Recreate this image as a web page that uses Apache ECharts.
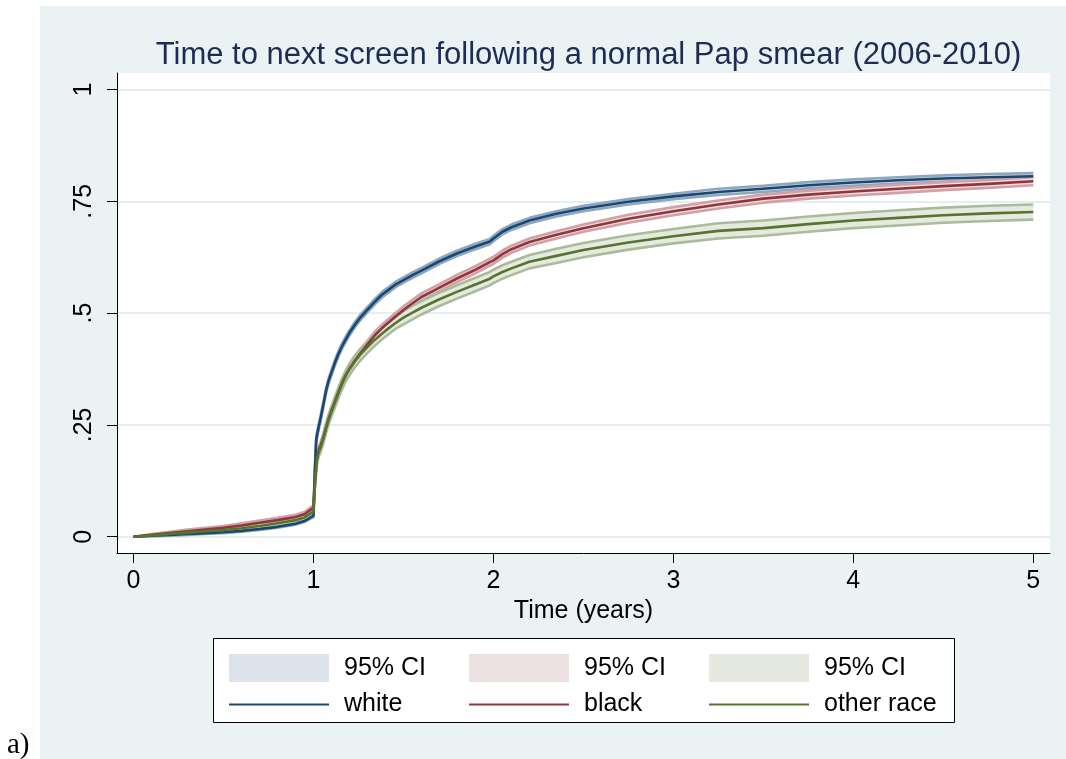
<!DOCTYPE html>
<html><head><meta charset="utf-8">
<script src="https://cdn.jsdelivr.net/npm/echarts@6/dist/echarts.min.js"></script>
<style>html,body{margin:0;padding:0;background:#fff}#c{width:1066px;height:759px}</style>
</head><body><div id="c"></div>
<script>
// ---- data ----
const time = [0, .1, .2, .3, .4, .5, .6, .7, .8, .9, .95, 1.0,
  1.005, 1.01, 1.015, 1.02, 1.03, 1.04, 1.055, 1.07, 1.085, 1.1, 1.12, 1.14, 1.16, 1.18, 1.2, 1.23, 1.26, 1.3, 1.34, 1.38, 1.42, 1.46, 1.5, 1.55, 1.6,
  1.7, 1.8, 1.9, 1.98, 2.0, 2.05, 2.1, 2.2, 2.35, 2.5, 2.75, 3.0, 3.25, 3.5, 3.75, 4.0, 4.25, 4.5, 4.75, 5.0];

const white = [0, .002, .004, .006, .008, .010, .013, .017, .022, .029, .035, .047,
  .12, .17, .215, .228, .248, .266, .296, .327, .350, .367, .390, .410, .427, .442, .456, .474, .490, .508, .525, .541, .553, .565, .574, .585, .595,
  .616, .634, .649, .660, .667, .682, .692, .707, .722, .734, .749, .761, .771, .778, .786, .792, .797, .801, .804, .806];
const whiteLo = [0, .001, .002, .004, .006, .008, .011, .015, .020, .027, .033, .044,
  .114, .164, .209, .222, .242, .260, .290, .321, .344, .361, .384, .404, .421, .436, .450, .468, .484, .502, .519, .535, .547, .559, .568, .579, .589,
  .610, .628, .643, .654, .661, .676, .686, .701, .716, .728, .743, .755, .764, .771, .779, .785, .790, .794, .797, .799];
const whiteHi = [0, .003, .006, .008, .010, .012, .015, .019, .024, .031, .037, .050,
  .126, .176, .221, .234, .254, .272, .302, .333, .356, .373, .396, .416, .433, .448, .462, .480, .496, .514, .531, .547, .559, .571, .580, .591, .601,
  .622, .640, .655, .666, .673, .688, .698, .713, .728, .740, .755, .767, .778, .785, .793, .799, .804, .808, .811, .813];

const black = [0, .004, .008, .012, .016, .020, .025, .031, .037, .044, .050, .065,
  .10, .13, .155, .178, .195, .205, .222, .244, .265, .282, .303, .325, .345, .362, .376, .394, .410, .430, .450, .466, .480, .494, .507, .522, .536,
  .557, .578, .597, .614, .618, .632, .643, .659, .675, .690, .711, .728, .743, .756, .765, .772, .778, .784, .789, .795];
const blackLo = [0, .002, .005, .008, .012, .016, .020, .026, .032, .039, .045, .060,
  .094, .123, .148, .171, .188, .198, .214, .236, .257, .274, .295, .317, .337, .354, .368, .386, .402, .422, .442, .458, .472, .486, .499, .514, .528,
  .549, .570, .589, .606, .610, .624, .635, .651, .667, .682, .702, .719, .734, .747, .756, .763, .769, .775, .780, .786];
const blackHi = [0, .006, .011, .016, .020, .024, .030, .036, .042, .049, .055, .070,
  .106, .137, .162, .185, .202, .212, .230, .252, .273, .290, .311, .333, .353, .370, .384, .402, .418, .438, .458, .474, .488, .502, .515, .530, .544,
  .565, .586, .605, .622, .626, .640, .651, .667, .683, .698, .720, .737, .752, .765, .774, .781, .787, .793, .798, .804];

const other = [0, .003, .006, .009, .012, .015, .019, .024, .030, .037, .043, .056,
  .10, .13, .155, .175, .19, .20, .22, .243, .263, .28, .302, .323, .343, .36, .374, .392, .407, .424, .44, .454, .467, .479, .490, .501, .512,
  .531, .548, .564, .577, .582, .592, .600, .615, .628, .641, .658, .672, .684, .690, .699, .707, .713, .719, .723, .726];
const otherLo = [0, .001, .003, .005, .008, .010, .014, .018, .024, .031, .036, .048,
  .091, .121, .145, .165, .180, .190, .209, .232, .252, .269, .290, .311, .331, .348, .361, .379, .394, .411, .427, .441, .454, .466, .475, .486, .497,
  .516, .533, .549, .562, .567, .577, .585, .600, .612, .625, .642, .656, .667, .673, .682, .690, .696, .702, .706, .709];
const otherHi = [0, .005, .009, .013, .016, .020, .024, .030, .036, .043, .050, .064,
  .109, .139, .165, .185, .200, .210, .231, .254, .274, .291, .314, .335, .355, .372, .387, .405, .420, .437, .453, .467, .480, .492, .505, .516, .527,
  .546, .563, .579, .592, .597, .607, .615, .630, .644, .657, .674, .688, .701, .707, .716, .724, .730, .736, .740, .743];

const groupNames = ['white', 'black', 'other race'];
const ciLabel = '95% CI';
const xTicks = [0, 1, 2, 3, 4, 5];
const xTickLabels = ['0', '1', '2', '3', '4', '5'];
const yTicks = [0, 0.25, 0.5, 0.75, 1];
const yTickLabels = ['0', '.25', '.5', '.75', '1'];
const titleText = 'Time to next screen following a normal Pap smear (2006-2010)';
const xAxisTitle = 'Time (years)';
const panelLabel = 'a)';

// ---- styles ----
const lineColors = ['#1a476f', '#90353b', '#55752f'];
const edgeColors = ['#8ea6bf', '#d3a0a7', '#aabb99'];
const fillColors = ['#dde3ea', '#ede0e1', '#e6e9e0'];
const FONT = 'Liberation Sans, Arial, Helvetica, sans-serif';

const groups = [
  {mid: white, lo: whiteLo, hi: whiteHi},
  {mid: black, lo: blackLo, hi: blackHi},
  {mid: other, lo: otherLo, hi: otherHi}
];

const pairs = arr => time.map((t, i) => [t, arr[i]]);

function bandRenderer(k) {
  return function (params, api) {
    if (params.dataIndex !== 0) return null;
    const up = [], dn = [];
    for (let i = 0; i < time.length; i++) {
      up.push(api.coord([api.value(0, i), api.value(2, i)]));
      dn.push(api.coord([api.value(0, i), api.value(1, i)]));
    }
    const poly = up.concat(dn.slice().reverse());
    return {
      type: 'group',
      children: [
        {type: 'polygon', shape: {points: poly}, style: {fill: fillColors[k], stroke: null}},
        {type: 'polyline', shape: {points: up}, style: {fill: null, stroke: edgeColors[k], lineWidth: 2.6, lineJoin: 'round'}},
        {type: 'polyline', shape: {points: dn}, style: {fill: null, stroke: edgeColors[k], lineWidth: 2.6, lineJoin: 'round'}}
      ]
    };
  };
}

const series = [];
groups.forEach((g, k) => {
  series.push({
    name: 'ci_' + groupNames[k], type: 'custom', silent: true,
    data: time.map((t, i) => [t, g.lo[i], g.hi[i]]),
    encode: {x: 0, y: [1, 2]},
    itemStyle: {color: fillColors[k]},
    renderItem: bandRenderer(k), z: 2
  });
});
groups.forEach((g, k) => {
  series.push({
    name: groupNames[k], type: 'line', symbol: 'none', silent: true,
    data: pairs(g.mid), itemStyle: {color: lineColors[k]},
    lineStyle: {width: 2.6, color: lineColors[k], join: 'round'}, z: 3
  });
});

const legendLefts = [223, 463, 703];
const legends = groupNames.map((n, k) => ({
  orient: 'vertical', left: legendLefts[k], top: 649,
  itemWidth: 100, itemHeight: 28, itemGap: 10, selectedMode: false,
  data: [
    {name: 'ci_' + n, icon: 'rect', itemStyle: {color: fillColors[k], borderWidth: 0}},
    {name: n, itemStyle: {color: 'rgba(0,0,0,0)', opacity: 0, borderWidth: 0}, lineStyle: {color: lineColors[k], width: 2, opacity: 1}}
  ],
  formatter: nm => nm.indexOf('ci_') === 0 ? ciLabel : nm,
  textStyle: {fontSize: 25, color: '#000', fontFamily: FONT, padding: [0, 0, 0, 10]}
}));

const chart = echarts.init(document.getElementById('c'), null, {renderer: 'canvas'});
chart.setOption({
  animation: false,
  backgroundColor: '#ffffff',
  textStyle: {fontFamily: FONT},
  title: {
    text: titleText, left: 583.5, textAlign: 'center', top: 35,
    textStyle: {fontSize: 31, fontWeight: 'normal', color: '#1e2c55', fontFamily: FONT}
  },
  graphic: [
    {type: 'rect', z: -100, silent: true, shape: {x: 40, y: 6, width: 1026, height: 753}, style: {fill: '#eaf2f3'}},
    {type: 'rect', z: -50, silent: true, shape: {x: 213.5, y: 638.5, width: 741, height: 84}, style: {fill: '#ffffff', stroke: '#000', lineWidth: 1}},
    {type: 'text', z: 10, silent: true, left: 7, top: 731, style: {text: panelLabel, fontSize: 29, fontFamily: 'Liberation Serif, Times New Roman, serif', fill: '#000'}}
  ],
  grid: {left: 117, top: 73, right: 16, bottom: 206, show: true, backgroundColor: '#ffffff', borderWidth: 0, outerBoundsMode: 'none'},
  xAxis: {
    type: 'value', min: -0.092, max: 5.093,
    name: xAxisTitle, nameLocation: 'middle', nameGap: 41,
    nameTextStyle: {fontSize: 25, color: '#000', fontFamily: FONT},
    axisLine: {show: true, onZero: false, lineStyle: {color: '#000', width: 1}},
    axisTick: {show: true, length: 10, customValues: xTicks, lineStyle: {color: '#000', width: 1}},
    axisLabel: {customValues: xTicks, fontSize: 25, color: '#000', margin: 16, fontFamily: FONT,
      formatter: v => xTickLabels[xTicks.indexOf(v)]},
    splitLine: {show: false}
  },
  yAxis: {
    type: 'value', min: -0.0365, max: 1.037,
    axisLine: {show: true, onZero: false, lineStyle: {color: '#000', width: 1}},
    axisTick: {show: true, length: 10, customValues: yTicks, lineStyle: {color: '#000', width: 1}},
    axisLabel: {customValues: yTicks, fontSize: 25, color: '#000', margin: 20, rotate: 90, fontFamily: FONT,
      formatter: v => yTickLabels[yTicks.indexOf(v)]},
    splitLine: {show: true, lineStyle: {color: '#e6eef0', width: 2}}
  },
  legend: legends,
  series: series
});
</script></body></html>
